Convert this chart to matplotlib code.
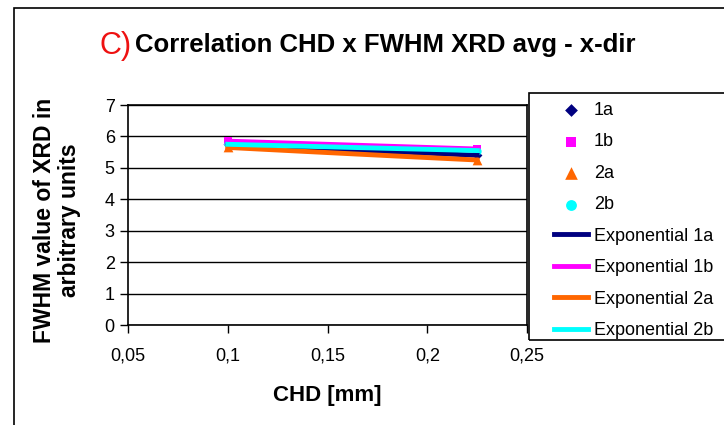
import numpy as np
import matplotlib
matplotlib.use("Agg")
from matplotlib import pyplot as plt
from matplotlib.patches import Rectangle
from matplotlib.ticker import FuncFormatter

# data
chd = [0.1, 0.225]
fwhm_1a = [5.75, 5.40]
fwhm_1b = [5.85, 5.60]
fwhm_2a = [5.65, 5.25]
fwhm_2b = [5.75, 5.55]
names = ["1a", "1b", "2a", "2b"]

plt.rcParams['font.family'] = ['Liberation Sans', 'DejaVu Sans']

colors = ["#000080", "#FF00FF", "#FF6600", "#00FFFF"]
markers = ["D", "s", "^", "o"]
sizes = [5, 6, 7, 6]
series = [fwhm_1a, fwhm_1b, fwhm_2a, fwhm_2b]

fig = plt.figure(figsize=(7.24, 4.25), dpi=100)
ax = fig.add_axes([128/724, 1-325/425, 399/724, 220/425])

#exponential trendline through each series
def exp_fit(x, y):
    b, ln_a = np.polyfit(x, np.log(y), 1)
    xs = np.linspace(min(x), max(x), 50)
    return xs, np.exp(ln_a) * np.exp(b * xs)

handles = []
for y, c, m, s, n in zip(series, colors, markers, sizes, names):
    h = ax.scatter(chd, y, c=c, marker=m, s=s**2, label=n, zorder=3, linewidths=0)
    handles.append(h)
for y, c, n in zip(series, colors, names):
    xs, ys = exp_fit(chd, y)
    h, = ax.plot(xs, ys, c=c, lw=3.5, label="Exponential " + n, zorder=4)
    handles.append(h)

ax.set_xlim(0.05, 0.25)
ax.set_ylim(0, 7)
ax.set_xticks([0.05, 0.1, 0.15, 0.2, 0.25])
ax.set_yticks(range(0, 8))
ax.xaxis.set_major_formatter(FuncFormatter(lambda v, p: ("%g" % round(v, 2)).replace(".", ",")))
ax.grid(axis='y', color='black', lw=1)
ax.tick_params(direction='out', length=6, width=1, labelsize=13, color='black')
ax.tick_params(axis='x', pad=10)
for sp in ax.spines.values():
    sp.set_linewidth(1.2)
    sp.set_color('black')

# legend box (runs off the right edge like the original)
fig.patches.append(Rectangle((529/724, 1-340/425), 0.4, 247/425, transform=fig.transFigure,
                             fill=False, ec='black', lw=1.2))
leg = fig.legend(handles=handles, loc='upper left', bbox_to_anchor=(545/724, 1-93/425),
                 fontsize=13, frameon=False, borderpad=0, labelspacing=0.8,
                 handlelength=1.9, handletextpad=0.3, markerscale=1.3)

# outer chart frame (cut off at right and bottom)
fig.patches.append(Rectangle((14/724, -0.2), 1.2, 1.2 - 8/425, transform=fig.transFigure,
                             fill=False, ec='black', lw=1.2))

fig.text(99/724, 1-46/425, "C)", color='#EE1111', fontsize=22, va='center')
fig.text(135/724, 1-45/425, "Correlation CHD x FWHM XRD avg - x-dir", fontsize=18.5,
         fontweight='bold', va='center')
fig.text(327/724, 1-395/425, "CHD [mm]", fontsize=16, fontweight='bold', ha='center', va='center')
fig.text(57/724, 1-220/425, "FWHM value of XRD in\narbitrary units", fontsize=16.5,
         fontweight='bold', rotation=90, ha='center', va='center', multialignment='center',
         linespacing=1.15)

plt.savefig("out.png", dpi=100)
